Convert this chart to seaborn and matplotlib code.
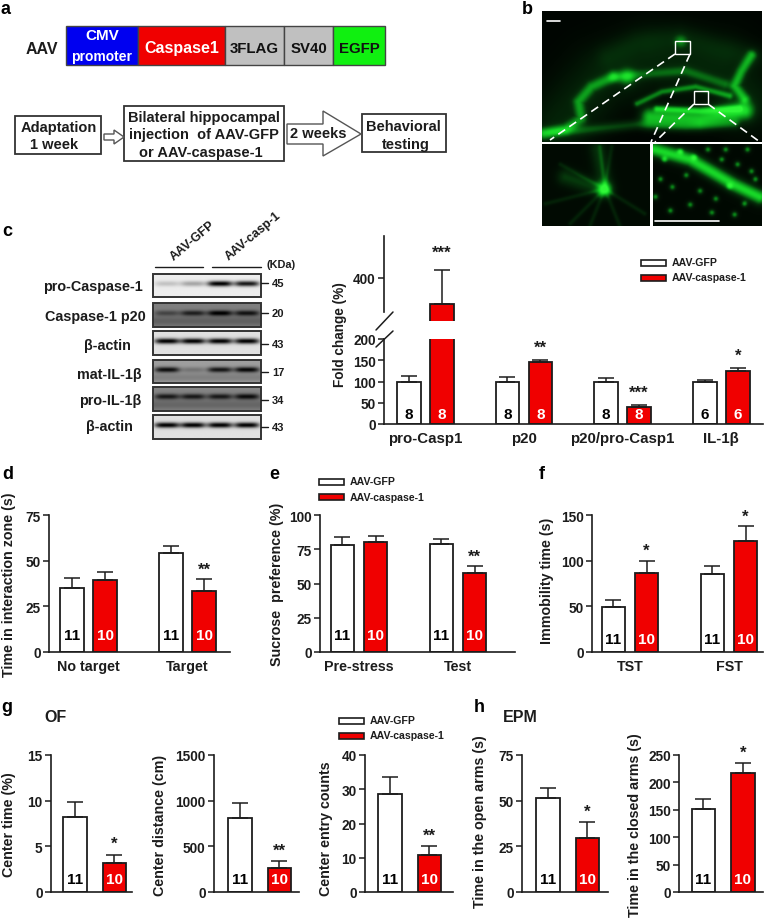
import numpy as np
import pandas as pd
import matplotlib
matplotlib.use("Agg")
import matplotlib.pyplot as plt
from matplotlib.patches import Rectangle, Polygon
from matplotlib.colors import LinearSegmentedColormap
import seaborn as sns

sns.set_theme(style="ticks")
plt.rcParams['font.family'] = ['Liberation Sans', 'DejaVu Sans']
plt.rcParams['font.weight'] = 'bold'
plt.rcParams['axes.labelweight'] = 'bold'

W, H = 765, 920
COND = ["AAV-GFP", "AAV-caspase-1"]
PAL = {"AAV-GFP": "#ffffff", "AAV-caspase-1": "#f00000"}
INK = "#1c1c1c"

# ---- data ----
c_groups = ["pro-Casp1", "p20", "p20/pro-Casp1", "IL-1β"]
c_gfp = [100, 100, 100, 100]
c_gfp_top = [114, 110, 109, 104]
c_casp = [280, 145, 39, 124]
c_casp_top = [437, 150, 44, 132]
c_n_gfp = ["8", "8", "8", "6"]
c_n_casp = ["8", "8", "8", "6"]
c_stars = ["***", "**", "***", "*"]

d_groups = ["No target", "Target"]
d_gfp = [34.9, 54.2]
d_gfp_top = [40.4, 58]
d_casp = [39.6, 33.5]
d_casp_top = [44, 40]
d_stars = ["", "**"]

e_groups = ["Pre-stress", "Test"]
e_gfp = [78.4, 78.5]
e_gfp_top = [84.3, 82.6]
e_casp = [80.4, 58]
e_casp_top = [84.7, 62.7]
e_stars = ["", "**"]

f_groups = ["TST", "FST"]
f_gfp = [49.4, 85]
f_gfp_top = [56.6, 93.7]
f_casp = [86.8, 122]
f_casp_top = [100, 137.6]
f_stars = ["*", "*"]

g1_gfp, g1_gfp_top, g1_casp, g1_casp_top = [8.26], [9.83], [3.17], [4.1]
g2_gfp, g2_gfp_top, g2_casp, g2_casp_top = [808], [972], [266], [335]
g3_gfp, g3_gfp_top, g3_casp, g3_casp_top = [28.7], [33.5], [10.9], [13.3]
h1_gfp, h1_gfp_top, h1_casp, h1_casp_top = [51.5], [57.2], [29.5], [38.2]
h2_gfp, h2_gfp_top, h2_casp, h2_casp_top = [151.7], [169], [218], [235]

blot_names = ["pro-Caspase-1", "Caspase-1 p20", "β-actin", "mat-IL-1β", "pro-IL-1β", "β-actin"]
blot_kda = ["45", "20", "43", "17", "34", "43"]
blot_bg = [0.93, 0.50, 0.88, 0.62, 0.52, 0.88]
blot_bands = [[0.18, 0.30, 1.0, 0.9], [0.45, 0.75, 1.0, 0.85], [1.0, 1.0, 1.0, 1.0],
              [0.9, 0.25, 0.85, 0.95], [0.8, 0.8, 0.8, 0.9], [1.0, 1.0, 1.0, 1.0]]

gene_labels = ["Caspase1", "3FLAG", "SV40", "EGFP"]


def px_axes(x0, x1, ytop, ybot, **kw):
    return fig.add_axes([x0 / W, 1 - ybot / H, (x1 - x0) / W, (ybot - ytop) / H], **kw)


fig = plt.figure(figsize=(W / 100, H / 100), dpi=100, facecolor="white")
ov = fig.add_axes([0, 0, 1, 1], zorder=0)
ov.set_xlim(0, W)
ov.set_ylim(H, 0)
ov.axis("off")


def bar_panel(rect, groups, gfp, gfp_top, casp, casp_top, cx0, unit, offset, barw,
              ylim, ticks, ylabel=None, lab_xy=None, n_gfp=None, n_casp=None, n_off=13,
              stars=None, star_off=12, tick_fs=9.8, xlab_fs=10.3, ylab_fs=9.6, show_x=True, lw=1.3):
    x0, x1, yt, yb = rect
    ax = px_axes(x0, x1, yt, yb, zorder=2)
    ax.patch.set_alpha(0)
    df = pd.DataFrame({"group": list(groups) * 2,
                       "cond": [COND[0]] * len(groups) + [COND[1]] * len(groups),
                       "value": list(gfp) + list(casp)})
    w = 2 * offset / unit
    gap = 1 - barw / offset
    sns.barplot(data=df, x="group", y="value", hue="cond", order=list(groups), hue_order=COND,
                palette=PAL, width=w, gap=gap, edgecolor=INK, linewidth=lw, saturation=1,
                errorbar=None, legend=False, ax=ax)
    for k, (cont, vals, tops, color) in enumerate(zip(ax.containers, [gfp, casp], [gfp_top, casp_top], [INK, INK])):
        for i, bar in enumerate(cont):
            xc = bar.get_x() + bar.get_width() / 2
            ax.errorbar([xc], [vals[i]], yerr=[[0], [tops[i] - vals[i]]], color=color, lw=1.1,
                        capsize=5.5, capthick=1.1, zorder=1)
            ns = n_gfp if k == 0 else n_casp
            if ns is not None:
                ax.annotate(ns[i], xy=(xc, 0), xytext=(0, n_off), textcoords="offset pixels",
                            ha="center", va="center", fontsize=11,
                            color="black" if k == 0 else "white", annotation_clip=False)
            if stars is not None and k == 1 and stars[i]:
                ax.annotate(stars[i], xy=(xc, tops[i]), xytext=(0, star_off), textcoords="offset pixels",
                            ha="center", va="center", fontsize=12, color=INK, annotation_clip=False)
    ax.set_xlim((x0 - cx0) / unit, (x1 - cx0) / unit)
    ax.set_ylim(*ylim)
    ax.set_yticks(ticks)
    ax.tick_params(axis="y", length=4, width=1.1, labelsize=tick_fs, pad=2, color=INK, labelcolor=INK)
    ax.tick_params(axis="x", length=0, labelsize=xlab_fs, pad=5, labelcolor=INK)
    ax.set_xlabel("")
    ax.set_ylabel("")
    if not show_x:
        ax.set_xticklabels([])
    sns.despine(ax=ax)
    for s in ("left", "bottom"):
        ax.spines[s].set_linewidth(1.2)
        ax.spines[s].set_color(INK)
    if ylabel:
        ov.text(lab_xy[0], lab_xy[1], ylabel, rotation=90, ha="center", va="center",
                fontsize=ylab_fs, color=INK)
    return ax


n11, n10 = ["11", "11"], ["10", "10"]

# --- panel c: broken axis
cg = dict(cx0=425.25, unit=98.7, offset=33, barw=23.5)
axl = bar_panel((384, 763, 340, 425), c_groups, c_gfp, c_gfp_top, c_casp, c_casp_top, **cg,
                ylim=(0, 200), ticks=[0, 50, 100, 150, 200], n_gfp=c_n_gfp, n_casp=c_n_casp, n_off=10,
                stars=["", "**", "***", "*"], star_off=13, xlab_fs=10.8)
axu = bar_panel((384, 763, 237, 322), c_groups, c_gfp, c_gfp_top, c_casp, c_casp_top, **cg,
                ylim=(200, 595), ticks=[400], stars=["***", "", "", ""], star_off=18, show_x=False)
axu.spines["bottom"].set_visible(False)
axu.spines["left"].set_bounds(242, 595)
axu.tick_params(axis="x", length=0)
ov.text(340, 335, "Fold change (%)", rotation=90, ha="center", va="center", fontsize=9.8, color=INK)
for (xa, ya, xb, yb_) in [(376, 331, 393, 313), (376, 348, 393, 332)]:
    ov.plot([xa, xb], [ya, yb_], color=INK, lw=1.1)

# --- panels d e f
rd = dict(unit=99, offset=33.3, barw=23.5, n_gfp=n11, n_casp=n10, stars=None)
bar_panel((49, 230, 516, 653), d_groups, d_gfp, d_gfp_top, d_casp, d_casp_top, cx0=88.5,
          ylim=(0, 75), ticks=[0, 25, 50, 75], ylabel="Time in interaction zone (s)", lab_xy=(9, 585),
          n_off=17, star_off=10, **{**rd, "stars": d_stars}, ylab_fs=10.3)
bar_panel((320, 515, 516, 653), e_groups, e_gfp, e_gfp_top, e_casp, e_casp_top, cx0=359,
          ylim=(0, 100), ticks=[0, 25, 50, 75, 100], ylabel="Sucrose  preference (%)", lab_xy=(277, 584),
          n_off=17, star_off=10, **{**rd, "stars": e_stars}, ylab_fs=10.3)
bar_panel((592, 763, 516, 653), f_groups, f_gfp, f_gfp_top, f_casp, f_casp_top, cx0=630,
          ylim=(0, 150), ticks=[0, 50, 100, 150], ylabel="Immobility time (s)", lab_xy=(547, 581),
          n_off=13, star_off=10, **{**rd, "stars": f_stars}, ylab_fs=10.3)

# --- panels g h
one = ["all"]
gk = dict(unit=100, barw=23.5, offset=39.5, n_gfp=["11"], n_casp=["10"], n_off=13, star_off=11, show_x=False, ylab_fs=10.3)
bar_panel((51, 132, 756, 893), one, g1_gfp, g1_gfp_top, g1_casp, g1_casp_top, cx0=94.5,
          ylim=(0, 15), ticks=[0, 5, 10, 15], ylabel="Center time (%)", lab_xy=(9, 825), stars=["*"], **gk)
bar_panel((214, 299, 756, 893), one, g2_gfp, g2_gfp_top, g2_casp, g2_casp_top, cx0=259.5,
          ylim=(0, 1500), ticks=[0, 500, 1000, 1500], ylabel="Center distance (cm)", lab_xy=(160, 825), stars=["**"], **gk)
bar_panel((365, 453, 756, 893), one, g3_gfp, g3_gfp_top, g3_casp, g3_casp_top, cx0=409.5,
          ylim=(0, 40), ticks=[0, 10, 20, 30, 40], ylabel="Center entry counts", lab_xy=(326, 829), stars=["**"], **gk)
bar_panel((522, 608, 756, 893), one, h1_gfp, h1_gfp_top, h1_casp, h1_casp_top, cx0=567.5,
          ylim=(0, 75), ticks=[0, 25, 50, 75], ylabel="Time in the open arms (s)", lab_xy=(480, 822), stars=["*"], **gk)
bar_panel((679, 763, 756, 893), one, h2_gfp, h2_gfp_top, h2_casp, h2_casp_top, cx0=723,
          ylim=(0, 250), ticks=[0, 50, 100, 150, 200, 250], ylabel="Time in the closed arms (s)", lab_xy=(635, 825), stars=["*"], **gk)


# --- legends
def legend(xp, xt, y1, y2, fs):
    for yc, c in zip((y1, y2), COND):
        ov.add_patch(Rectangle((xp[0], yc - 3), xp[1] - xp[0], 6, fc=PAL[c], ec=INK, lw=1.2))
        ov.text(xt, yc, c, ha="left", va="center", fontsize=fs, color=INK)


legend((641, 666), 672, 263.5, 278.5, 7.6)
legend((319, 344), 350, 482.5, 498, 7.6)
legend((339, 364), 370, 721.5, 736.5, 7.6)

# --- panel letters / titles
for (x, y, s) in [(6, 9, "a"), (527, 9, "b"), (7, 232, "c"), (8, 475, "d"), (274, 475, "e"),
                  (542, 475, "f"), (7, 708, "g"), (479, 708, "h")]:
    ov.text(x, y, s, ha="center", va="center", fontsize=13, color="black")
ov.text(56, 718, "OF", ha="center", va="center", fontsize=11.5, color=INK)
ov.text(520, 718, "EPM", ha="center", va="center", fontsize=11.5, color=INK)

# --- panel a
ov.text(42, 49, "AAV", ha="center", va="center", fontsize=11.5, color=INK)
edges = [66, 138, 225, 284, 333, 385]
fills = ["#0000f0", "#f00000", "#c0c0c0", "#c0c0c0", "#10f010"]
for i, f in enumerate(fills):
    ov.add_patch(Rectangle((edges[i], 27), edges[i + 1] - edges[i], 39, fc=f, ec="#444444", lw=1))
ov.text(102, 36, "CMV", ha="center", va="center", fontsize=11, color="white")
ov.text(102, 57, "promoter", ha="center", va="center", fontsize=10, color="white")
for i, s in enumerate(gene_labels):
    ov.text((edges[i + 1] + edges[i + 2]) / 2, 49, s, ha="center", va="center", fontsize=11.5 if i == 0 else 10.8,
            color="white" if i == 0 else "#111111")

for (x0, x1, y0, y1) in [(15, 101, 117, 155), (124, 284, 107, 162), (362, 446, 115, 153)]:
    ov.add_patch(Rectangle((x0, y0), x1 - x0, y1 - y0, fc="white", ec="#333333", lw=1.3))
for (x, y, s) in [(59, 128, "Adaptation"), (54, 145, "1 week"),
                  (204, 118, "Bilateral hippocampal"), (204, 135, "injection  of AAV-GFP"),
                  (201, 153, "or AAV-caspase-1"), (403, 127, "Behavioral"), (406, 145, "testing")]:
    ov.text(x, y, s, ha="center", va="center", fontsize=10.5, color=INK)
ov.add_patch(Polygon([(104, 135), (114, 135), (114, 131), (124, 138), (114, 145), (114, 141), (104, 141)],
                     closed=True, fc="white", ec="#555555", lw=1))
ov.add_patch(Polygon([(287, 125), (323, 125), (323, 112), (361, 135), (323, 157), (323, 145), (287, 145)],
                     closed=True, fc="white", ec="#555555", lw=1))
ov.text(318, 134, "2 weeks", ha="center", va="center", fontsize=10.5, color=INK)

# --- panel c blots
blot_y = [(275, 298), (304, 328), (332, 356), (361, 384), (388, 412), (416, 440)]
label_xy = [(93, 287), (95, 317), (107, 346), (109, 375), (110, 401), (109, 427)]
kda_y = [284, 314, 345, 373, 401, 428]
lanes = [167, 193, 220, 247]
for (yt, yb), bg, bands, nm, (lx, ly), kd, ky in zip(blot_y, blot_bg, blot_bands, blot_names, label_xy, blot_kda, kda_y):
    xs, ys = np.meshgrid(np.arange(153, 261.5, 0.5), np.arange(yt, yb + 0.5, 0.5))
    img = np.full(xs.shape, bg, dtype=float)
    if bg < 0.7:
        img -= 0.12 * np.exp(-((ys - (yt + yb) / 2 - 6) / 5) ** 2)
    yc = yt + (yb - yt) * 0.42
    for lx0, amp in zip(lanes, bands):
        img -= bg * amp * np.exp(-((xs - lx0) / 12.5) ** 4) * np.exp(-((ys - yc) / 2.8) ** 2)
    ov.imshow(np.clip(img, 0, 1), cmap="gray", vmin=0, vmax=1, extent=(153, 261, yb, yt), aspect="auto", zorder=1)
    ov.add_patch(Rectangle((153, yt), 108, yb - yt, fc="none", ec="#333333", lw=1.4, zorder=2))
    ov.text(lx, ly, nm, ha="center", va="center", fontsize=10.4, color=INK)
    ov.plot([261, 268], [ky, ky], color=INK, lw=1)
    ov.text(272, ky, kd, ha="left", va="center", fontsize=8, color=INK)
ov.text(267, 265, "(KDa)", ha="left", va="center", fontsize=7.8, color=INK)
ov.plot([155, 203], [268, 268], color=INK, lw=1)
ov.plot([212, 261], [268, 268], color=INK, lw=1)
ov.text(176, 263, "AAV-GFP", rotation=40, rotation_mode="anchor", ha="left", va="bottom", fontsize=9, color=INK)
ov.text(231, 263, "AAV-casp-1", rotation=40, rotation_mode="anchor", ha="left", va="bottom", fontsize=9, color=INK)

# --- panel b: schematic micrograph
green = LinearSegmentedColormap.from_list("g", ["#000000", "#052e0a", "#0a8a18", "#18d828", "#30f838"])


def glow(x0, x1, y0, y1, strokes, base):
    xs, ys = np.meshgrid(np.arange(x0, x1 + 1.0), np.arange(y0, y1 + 1.0))
    out = np.full(xs.shape, base, dtype=float)
    for pts, width, amp in strokes:
        pts = np.asarray(pts, dtype=float)
        best = np.full(xs.shape, 1e9)
        if len(pts) == 1:
            best = np.hypot(xs - pts[0, 0], ys - pts[0, 1])
        for a, b in zip(pts[:-1], pts[1:]):
            ab = b - a
            t = np.clip(((xs - a[0]) * ab[0] + (ys - a[1]) * ab[1]) / (ab @ ab), 0, 1)
            best = np.minimum(best, np.hypot(xs - a[0] - t * ab[0], ys - a[1] - t * ab[1]))
        out += amp * np.exp(-(best / width) ** 2)
    return np.clip(out, 0, 1)


hippo = [
    ([(560, 125), (600, 80), (650, 60), (720, 70), (745, 100)], 32, 0.16),
    ([(608, 57), (637, 43), (681, 37), (716, 48), (755, 57)], 12, 0.10),
    ([(681, 42)], 6, 0.3),
    ([(544, 136), (565, 131), (581, 120), (578, 103), (591, 88), (613, 78)], 5.5, 0.38),
    ([(613, 78), (647, 75), (686, 72), (725, 85)], 5, 0.25),
    ([(627, 78)], 8, 0.4),
    ([(752, 56), (742, 72), (735, 87), (745, 100)], 5, 0.45),
    ([(650, 118), (700, 120), (745, 112)], 9, 0.62),
    ([(544, 133), (578, 132), (637, 126), (686, 128), (735, 125)], 5, 0.25),
    ([(637, 105), (662, 93), (696, 88), (730, 97)], 3.2, 0.4),
    ([(657, 110), (701, 112), (740, 110)], 3.2, 0.45),
]
ov.imshow(glow(542, 762, 12, 143, hippo, 0.03), cmap=green, vmin=0, vmax=1, extent=(542, 762, 143, 12),
          aspect="auto", zorder=1)
rays = [[(605, 190), p] for p in [(600, 147), (612, 147), (570, 225), (590, 227), (620, 227), (645, 215), (545, 205), (560, 165)]]
left = [(r, 2.2, 0.12) for r in rays] + [([(605, 190)], 7, 0.5), ([(598, 150), (606, 190)], 8, 0.2),
                                         ([(565, 178), (600, 190)], 8, 0.22)]
ov.imshow(glow(542, 650, 145, 227, left, 0.06), cmap=green, vmin=0, vmax=1, extent=(542, 650, 227, 145),
          aspect="auto", zorder=1)
dots_x = [660, 672, 686, 700, 716, 730, 745, 756, 664, 680, 694, 708, 722, 738, 752, 670, 690, 712, 735, 655, 726, 748]
dots_y = [180, 188, 176, 192, 200, 187, 205, 180, 160, 152, 158, 150, 160, 165, 172, 212, 206, 214, 216, 198, 150, 150]
right = [([(654, 150), (690, 160), (711, 172), (735, 186), (760, 198)], 7, 0.7)] + \
        [([(a, b)], 3, 0.45) for a, b in zip(dots_x, dots_y)]
ov.imshow(glow(653, 762, 145, 227, right, 0.05), cmap=green, vmin=0, vmax=1, extent=(653, 762, 227, 145),
          aspect="auto", zorder=1)
ov.set_xlim(0, W)
ov.set_ylim(H, 0)
for (x0, x1, y0, y1) in [(675, 690, 42, 55), (694, 708, 92, 105)]:
    ov.add_patch(Rectangle((x0, y0), x1 - x0, y1 - y0, fc="none", ec="white", lw=1, zorder=3))
for (xa, ya, xb, yb_) in [(675, 55, 550, 141), (690, 55, 651, 143), (694, 105, 655, 143), (708, 105, 760, 143)]:
    ov.plot([xa, xb], [ya, yb_], color="white", lw=1.2, ls=(0, (5, 3)), zorder=3)
ov.plot([547, 560], [22, 22], color="white", lw=1.2, zorder=3)
ov.plot([655, 719], [222, 222], color="white", lw=1.2, zorder=3)

fig.savefig("out.png", dpi=100)
